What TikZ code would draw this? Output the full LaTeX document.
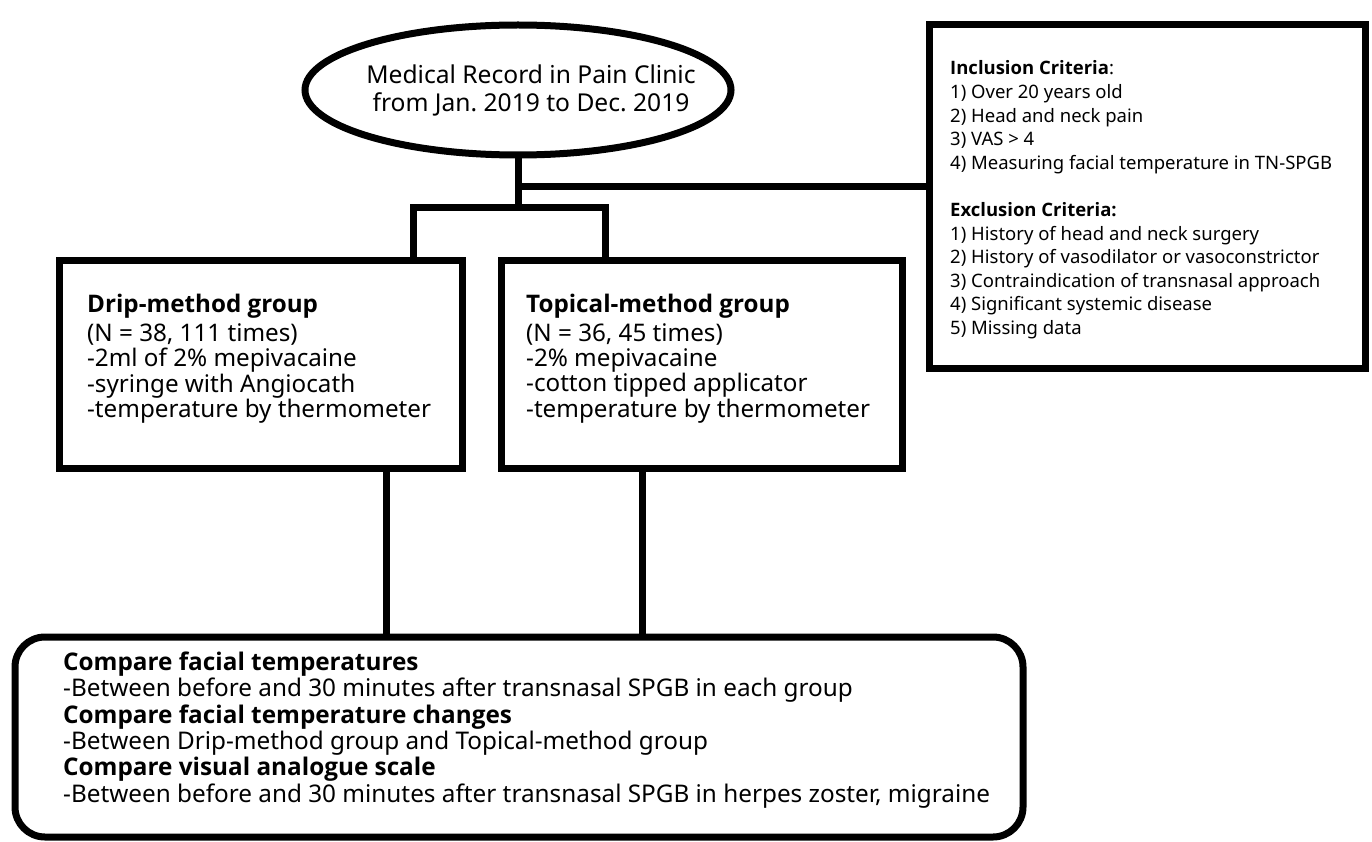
\documentclass[tikz,border=0pt]{standalone}
\usepackage{fontspec}
\setmainfont{Noto Sans}
\newfontfamily\hfont{Open Sans}
\newcommand{\hd}[1]{{\hfont\bfseries #1}}
\usetikzlibrary{shapes.geometric}
\newcommand{\txtlines}[1]{\begin{tabular}[t]{@{}l@{}}#1\end{tabular}}
\newcommand{\ctrlines}[1]{\begin{tabular}[t]{@{}c@{}}#1\end{tabular}}
\frenchspacing
\begin{document}
\begin{tikzpicture}[x=1pt,y=-1pt,
  conn/.style={line width=7pt, line cap=butt, line join=miter},
  box/.style={draw, line width=7pt, inner sep=0pt, fill=white},
  txt/.style={anchor=base west, inner sep=0pt},
]
\fill[white] (0,0) rectangle (1372,842);
\useasboundingbox (0,0) rectangle (1372,842);

% shapes
\node[box, ellipse, minimum width=426pt, minimum height=130pt] (ell) at (518,90) {};
\node[box, minimum width=436pt, minimum height=343pt] (crit) at (1147,196.5) {};
\node[box, minimum width=402.5pt, minimum height=207.5pt] (drip) at (260.75,364.25) {};
\node[box, minimum width=401pt, minimum height=207.5pt] (topi) at (701.5,364.25) {};
\node[box, rounded corners=30pt, minimum width=1008pt, minimum height=200pt] (res) at (519,737) {};

% junction coordinates
\coordinate (jc) at (518,187);
\coordinate (jb) at (518,208);
\coordinate (bl) at (413,208);
\coordinate (br) at (605,208);
\coordinate (dx) at (386.5,550);
\coordinate (tx) at (642,550);

% connectors
\draw[conn] (ell.south) -- (jb);
\draw[conn] (jc) -- (crit.west |- jc);
\draw[conn] (drip.north -| bl) -- (bl) -- (br) -- (topi.north -| br);
\draw[conn] (drip.south -| dx) -- (res.north -| dx);
\draw[conn] (topi.south -| tx) -- (res.north -| tx);

% texts
\node[txt, anchor=base, font=\fontsize{24.6}{28}\selectfont] (ellt) at (531,84)
  {\ctrlines{Medical Record in Pain Clinic\\from Jan. 2019 to Dec. 2019}};

\node[txt, font=\fontsize{18.5}{23.6}\selectfont] (critt) at (950,75)
  {\txtlines{\hd{Inclusion Criteria}:\\
  1) Over 20 years old\\
  2) Head and neck pain\\
  3) VAS > 4\\
  4) Measuring facial temperature in TN-SPGB\\
  \\
  \hd{Exclusion Criteria:}\\
  1) History of head and neck surgery\\
  2) History of vasodilator or vasoconstrictor\\
  3) Contraindication of transnasal approach\\
  4) Significant systemic disease\\
  5) Missing data}};

\node[txt, font=\fontsize{24.2}{23.5}\selectfont] (dript) at (87,312)
  {\txtlines{\hd{Drip-method group}\\[4.5pt]
  (N = 38, 111 times)\\
  -2ml of 2\% mepivacaine\\
  -syringe with Angiocath\\
  -temperature by thermometer}};

\node[txt, font=\fontsize{24.2}{23.5}\selectfont] (topit) at (526,312)
  {\txtlines{\hd{Topical-method group}\\[4.5pt]
  (N = 36, 45 times)\\
  -2\% mepivacaine\\
  -cotton tipped applicator\\
  -temperature by thermometer}};

\node[txt, font=\fontsize{24.3}{26.4}\selectfont] (rest) at (63,670)
  {\txtlines{\hd{Compare facial temperatures}\\
  -Between before and 30 minutes after transnasal SPGB in each group\\
  \hd{Compare facial temperature changes}\\
  -Between Drip-method group and Topical-method group\\
  \hd{Compare visual analogue scale}\\
  -Between before and 30 minutes after transnasal SPGB in herpes zoster, migraine}};
\end{tikzpicture}
\end{document}
